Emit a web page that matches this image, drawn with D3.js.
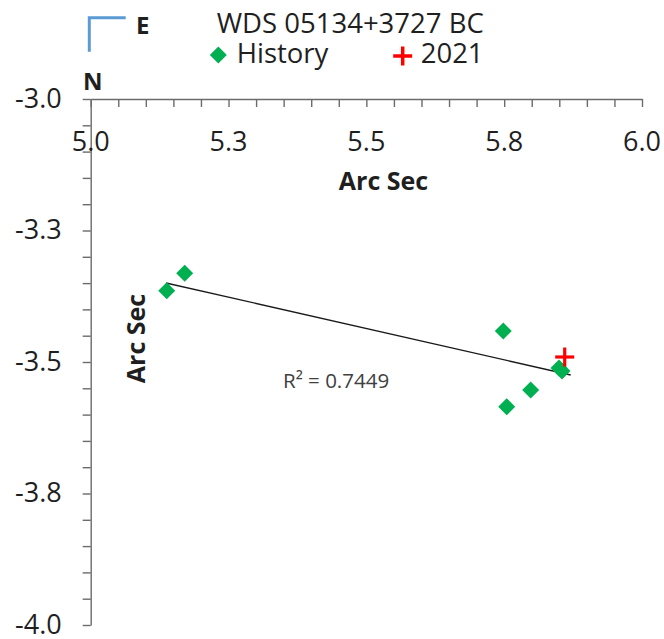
<!DOCTYPE html>
<html lang="en">
<head>
<meta charset="UTF-8">
<title>WDS 05134+3727 BC</title>
<script src="https://d3js.org/d3.v7.min.js"></script>
<style>
    body { margin: 0; padding: 0; background: #fff; }
    svg { display: block; font-family: 'Open Sans', sans-serif; }
</style>
</head>
<body>
<div id="chart"></div>
<script>
// measured positions (arc sec)
var historyX = [5.1379, 5.1705, 5.7484, 5.7981, 5.7546, 5.8494, 5.8549];
var historyY = [-3.3645, -3.3314, -3.4411, -3.5532, -3.5850, -3.5114, -3.5171];
var obsX = [5.8598];
var obsY = [-3.4905];
// linear trend as drawn
var trendX = [5.1366, 5.8707];
var trendY = [-3.3498, -3.5247];
var xTicks = [5.0, 5.25, 5.5, 5.75, 6.0];
var xTickLabels = ["5.0", "5.3", "5.5", "5.8", "6.0"];
var yTicks = [-3.0, -3.25, -3.5, -3.75, -4.0];
var yTickLabels = ["-3.0", "-3.3", "-3.5", "-3.8", "-4.0"];

var width = 664, height = 639;
var plotLeft = 90.7, plotTop = 99, plotRight = 642, plotBottom = 625;
var textColor = "#1f1f1f";

var svg = d3.select("#chart").append("svg")
    .attr("width", width)
    .attr("height", height);

var x = d3.scaleLinear().domain([5, 6]).range([plotLeft, plotRight]);
var y = d3.scaleLinear().domain([-3, -4]).range([plotTop, plotBottom]);

var minor = d3.range(0, 21).map(function(i) { return i * 0.05; });

// x axis sits on top of the plot, ticks pointing down
var xAxis = d3.axisBottom(x)
    .tickValues(minor.map(function(v) { return 5 + v; }))
    .tickSize(8)
    .tickSizeOuter(0)
    .tickFormat("");
svg.append("g")
    .attr("transform", "translate(0," + plotTop + ")")
    .call(xAxis);

var yAxis = d3.axisLeft(y)
    .tickValues(minor.map(function(v) { return -3 - v; }))
    .tickSize(8)
    .tickSizeOuter(0)
    .tickFormat("");
svg.append("g")
    .attr("transform", "translate(" + plotLeft + ",0)")
    .call(yAxis);

svg.selectAll(".domain, .tick line")
    .attr("stroke", "#6b6b6b")
    .attr("stroke-width", 1.4);

svg.selectAll(".xlab")
    .data(xTicks)
    .enter().append("text")
    .attr("x", function(d) { return x(d); })
    .attr("y", 150.7)
    .attr("text-anchor", "middle")
    .style("font-size", "27px")
    .style("fill", textColor)
    .text(function(d, i) { return xTickLabels[i]; });

svg.selectAll(".ylab")
    .data(yTicks)
    .enter().append("text")
    .attr("x", 61.7)
    .attr("y", function(d) { return y(d) + 8.5; })
    .attr("text-anchor", "end")
    .style("font-size", "27px")
    .style("fill", textColor)
    .text(function(d, i) { return yTickLabels[i]; });

// axis titles
svg.append("text")
    .attr("x", 383.5)
    .attr("y", 190)
    .attr("text-anchor", "middle")
    .style("font-size", "25px")
    .style("font-weight", "bold")
    .style("fill", textColor)
    .text("Arc Sec");

svg.append("text")
    .attr("transform", "translate(145,338.5) rotate(-90)")
    .attr("text-anchor", "middle")
    .style("font-size", "25px")
    .style("font-weight", "bold")
    .style("fill", textColor)
    .text("Arc Sec");

// trend line
svg.append("line")
    .attr("x1", x(trendX[0])).attr("y1", y(trendY[0]))
    .attr("x2", x(trendX[1])).attr("y2", y(trendY[1]))
    .attr("stroke", "#1a1a1a")
    .attr("stroke-width", 1.3);

svg.append("text")
    .attr("x", 283)
    .attr("y", 388)
    .style("font-size", "20.5px")
    .style("fill", "#404040")
    .text("R\u00b2 = 0.7449");

var diamond = d3.symbol().type(d3.symbolSquare).size(144);

svg.selectAll(".hist")
    .data(historyX)
    .enter().append("path")
    .attr("d", diamond)
    .attr("transform", function(d, i) {
        return "translate(" + x(d) + "," + y(historyY[i]) + ") rotate(45)";
    })
    .attr("fill", "#00b050");

function plus(g, cx, cy, r) {
    g.append("line").attr("x1", cx - r).attr("x2", cx + r).attr("y1", cy).attr("y2", cy);
    g.append("line").attr("x1", cx).attr("x2", cx).attr("y1", cy - r).attr("y2", cy + r);
}

var obs = svg.append("g").attr("stroke", "#ff0000").attr("stroke-width", 3.2);
obsX.forEach(function(d, i) { plus(obs, x(d), y(obsY[i]), 9.5); });

// title + legend
svg.append("text")
    .attr("x", 216.7)
    .attr("y", 33.3)
    .style("font-size", "27.5px")
    .style("fill", textColor)
    .text("WDS 05134+3727 BC");

svg.append("path")
    .attr("d", diamond)
    .attr("transform", "translate(218.3,55) rotate(45)")
    .attr("fill", "#00b050");
svg.append("text")
    .attr("x", 236.7)
    .attr("y", 63.3)
    .style("font-size", "27.5px")
    .style("fill", textColor)
    .text("History");

var leg = svg.append("g").attr("stroke", "#ff0000").attr("stroke-width", 3.5);
plus(leg, 402.7, 56, 9.5);
svg.append("text")
    .attr("x", 420.7)
    .attr("y", 63.3)
    .style("font-size", "27.5px")
    .style("fill", textColor)
    .text("2021");

// compass
svg.append("path")
    .attr("d", "M125.7,17.7 L89.3,17.7 L89.3,51.7")
    .attr("fill", "none")
    .attr("stroke", "#5b9bd5")
    .attr("stroke-width", 3);

svg.append("text")
    .attr("x", 136)
    .attr("y", 33.5)
    .style("font-size", "24px")
    .style("font-weight", "bold")
    .style("fill", textColor)
    .text("E");

svg.append("text")
    .attr("x", 83)
    .attr("y", 89.5)
    .style("font-size", "24px")
    .style("font-weight", "bold")
    .style("fill", textColor)
    .text("N");
</script>
</body>
</html>
